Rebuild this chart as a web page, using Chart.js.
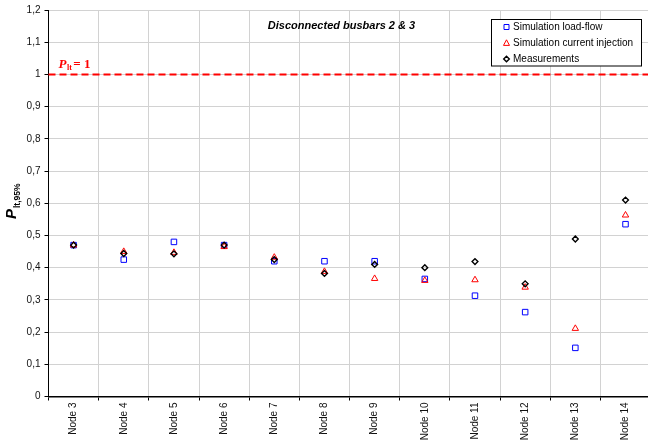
<!DOCTYPE html>
<html>
<head>
<meta charset="utf-8">
<script src="https://cdn.jsdelivr.net/npm/chart.js@4/dist/chart.umd.min.js"></script>
<style>
  html, body { margin: 0; padding: 0; background: #fff; overflow: hidden; width: 648px; height: 441px; }
  #wrap { position: absolute; left: 0; top: 0; width: 656px; height: 441px; }
</style>
</head>
<body>
<div id="wrap"><canvas id="c" width="656" height="441"></canvas></div>
<script>
// Nodes along the feeder
const categories = ['Node 3', 'Node 4', 'Node 5', 'Node 6', 'Node 7', 'Node 8',
                    'Node 9', 'Node 10', 'Node 11', 'Node 12', 'Node 13', 'Node 14'];

// Long-term flicker severity, 95th percentile
const loadFlow          = [0.470, 0.425, 0.480, 0.470, 0.420, 0.420, 0.420, 0.365, 0.313, 0.262, 0.151, 0.535];
const currentInjection  = [0.470, 0.450, 0.447, 0.465, 0.432, 0.388, 0.366, 0.360, 0.362, 0.339, 0.211, 0.563];
const measurements      = [0.470, 0.444, 0.443, 0.470, 0.425, 0.382, 0.410, 0.400, 0.419, 0.350, 0.489, 0.610];

const yTickLabels = ['0', '0,1', '0,2', '0,3', '0,4', '0,5', '0,6', '0,7', '0,8', '0,9', '1', '1,1', '1,2'];
const seriesNames = ['Simulation load-flow', 'Simulation current injection', 'Measurements'];
const pltLimit = 1;

const SANS = "Arial, 'Liberation Sans', sans-serif";
const SERIF = "'Times New Roman', 'Liberation Serif', serif";

function marker(ctx, kind, x, y) {
  ctx.save();
  ctx.beginPath();
  if (kind === 'rect') {
    ctx.strokeStyle = '#0000ff'; ctx.lineWidth = 1;
    ctx.rect(x - 2.5, y - 2.5, 5, 5);
  } else if (kind === 'triangle') {
    ctx.strokeStyle = '#ff0000'; ctx.lineWidth = 1;
    ctx.moveTo(x, y - 3.2); ctx.lineTo(x + 3, y + 2.4); ctx.lineTo(x - 3, y + 2.4); ctx.closePath();
  } else {
    ctx.strokeStyle = '#000000'; ctx.lineWidth = 1.4;
    ctx.moveTo(x, y - 2.8); ctx.lineTo(x + 2.8, y); ctx.lineTo(x, y + 2.8); ctx.lineTo(x - 2.8, y); ctx.closePath();
  }
  ctx.stroke();
  ctx.restore();
}

const decorations = {
  id: 'decorations',
  beforeDatasetsDraw(chart) {
    const { ctx, chartArea, scales } = chart;
    const y = scales.y.getPixelForValue(pltLimit);
    ctx.save();
    ctx.strokeStyle = '#ff0000';
    ctx.lineWidth = 2;
    ctx.setLineDash([7, 4]);
    ctx.beginPath();
    ctx.moveTo(chartArea.left, y);
    ctx.lineTo(chartArea.right, y);
    ctx.stroke();
    ctx.restore();
  },
  afterDraw(chart) {
    const { ctx, scales, chartArea } = chart;
    ctx.save();

    // limit label: P_lt = 1
    const ly = scales.y.getPixelForValue(pltLimit) - 6;
    let lx = chartArea.left + 10;
    ctx.fillStyle = '#ff0000';
    ctx.textBaseline = 'alphabetic';
    ctx.textAlign = 'left';
    ctx.font = 'bold italic 13px ' + SERIF;
    ctx.fillText('P', lx, ly);
    lx += ctx.measureText('P').width + 0.5;
    ctx.font = 'bold 8px ' + SERIF;
    ctx.fillText('lt', lx, ly + 2);
    lx += ctx.measureText('lt').width + 1.5;
    ctx.font = 'bold 13px ' + SERIF;
    ctx.fillText('= 1', lx, ly);

    // title
    ctx.fillStyle = '#000';
    ctx.font = 'bold italic 11px ' + SANS;
    ctx.textAlign = 'center';
    ctx.textBaseline = 'middle';
    ctx.fillText('Disconnected busbars 2 & 3', 341.5, 26);

    // y axis title: P_lt,95%
    ctx.save();
    ctx.translate(16, 219);
    ctx.rotate(-Math.PI / 2);
    ctx.textAlign = 'left';
    ctx.textBaseline = 'alphabetic';
    ctx.font = 'bold italic 15px ' + SANS;
    ctx.fillText('P', 0, 0);
    const pw = ctx.measureText('P').width;
    ctx.font = 'bold 8.5px ' + SANS;
    ctx.fillText('lt,95%', pw + 1, 4);
    ctx.restore();

    // legend
    const bx = 491.5, by = 19.5, bw = 150, bh = 46.5;
    ctx.fillStyle = '#fff';
    ctx.fillRect(bx, by, bw, bh);
    ctx.strokeStyle = '#000';
    ctx.lineWidth = 1;
    ctx.strokeRect(bx, by, bw, bh);
    const kinds = ['rect', 'triangle', 'rectRot'];
    ctx.font = '10px ' + SANS;
    ctx.textAlign = 'left';
    ctx.textBaseline = 'middle';
    for (let i = 0; i < seriesNames.length; i++) {
      const yy = 27 + i * 16;
      marker(ctx, kinds[i], 506.5, yy);
      ctx.fillStyle = '#000';
      ctx.fillText(seriesNames[i], 513, yy);
    }
    ctx.restore();
  }
};

const clear = 'rgba(0,0,0,0)';

new Chart(document.getElementById('c'), {
  type: 'line',
  data: {
    labels: categories,
    datasets: [
      { label: seriesNames[0], data: loadFlow, showLine: false, order: 3,
        pointStyle: 'rect', pointRadius: 3.9, pointBorderWidth: 1,
        borderColor: '#0000ff', backgroundColor: clear, pointBackgroundColor: clear },
      { label: seriesNames[1], data: currentInjection, showLine: false, order: 2,
        pointStyle: 'triangle', pointRadius: 3.7, pointBorderWidth: 1,
        borderColor: '#ff0000', backgroundColor: clear, pointBackgroundColor: clear },
      { label: seriesNames[2], data: measurements, showLine: false, order: 1,
        pointStyle: 'rectRot', pointRadius: 2.9, pointBorderWidth: 1.4,
        borderColor: '#000000', backgroundColor: clear, pointBackgroundColor: clear }
    ]
  },
  options: {
    responsive: false,
    animation: false,
    events: [],
    layout: { padding: { left: 0, top: 8, right: 3, bottom: 0 } },
    plugins: { legend: { display: false }, tooltip: { enabled: false } },
    scales: {
      x: {
        type: 'category',
        offset: true,
        grid: { offset: true, color: '#d2d2d2', lineWidth: 1, drawTicks: true,
                tickLength: 4, tickColor: '#000' },
        border: { color: '#000', width: 1.5 },
        ticks: { minRotation: 90, maxRotation: 90, padding: 2, color: '#111',
                 font: { family: SANS, size: 10 } },
        afterFit(scale) { scale.height = 44.5; }
      },
      y: {
        min: 0, max: 1.2,
        grid: { color: '#d2d2d2', lineWidth: 1, tickLength: 4, tickColor: '#000' },
        border: { color: '#000', width: 1 },
        ticks: { stepSize: 0.1, padding: 4, color: '#111',
                 font: { family: SANS, size: 10 } ,
                 callback: (v, i) => yTickLabels[i] },
        afterFit(scale) { scale.width = 48.5; }
      }
    }
  },
  plugins: [decorations]
});
</script>
</body>
</html>
